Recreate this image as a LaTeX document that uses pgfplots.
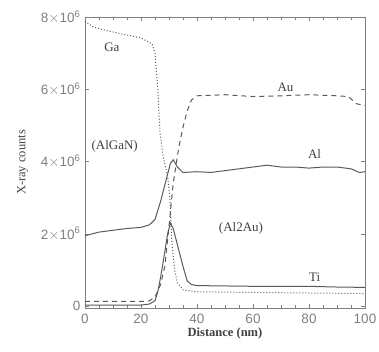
\documentclass[border=0pt]{standalone}
\usepackage{pgfplots}
\pgfplotsset{compat=1.18}
\usepackage{fontspec}
\setmainfont{Liberation Serif}
\setsansfont{Liberation Sans}
\definecolor{axc}{gray}{0.5}
\definecolor{lnc}{gray}{0.35}
\definecolor{txc}{gray}{0.25}
\begin{document}
\begin{tikzpicture}
\path[use as bounding box] (-85pt,-43pt) rectangle (294pt,308pt);
\begin{axis}[
  scale only axis, width=280pt, height=291pt,
  xmin=0, xmax=100, ymin=-0.05, ymax=8,
  axis line style={axc, line width=0.8pt},
  tick style={axc},
  xtick={0,20,40,60,80,100},
  minor x tick num=3,
  ytick={0,2,4,6,8},
  yticklabels={0,2$\times$10\textsuperscript{6},4$\times$10\textsuperscript{6},6$\times$10\textsuperscript{6},8$\times$10\textsuperscript{6}},
  /pgf/number format/assume math mode=true,
  tick label style={font=\sffamily\fontsize{13.5}{16}\selectfont, text=axc},
  xticklabel style={yshift=-3pt},
  yticklabel style={xshift=-1pt},
  xlabel={\textbf{Distance (nm)}},
  ylabel={X-ray counts},
  label style={font=\fontsize{12.5}{14}\selectfont, text=txc},
  xlabel style={yshift=3pt},
  ylabel style={yshift=6pt},
  tick align=inside,
]
\addplot[lnc, line width=1pt, dotted] coordinates {
(0,7.88)(3,7.72)(8,7.62)(15,7.5)(20,7.42)(24,7.25)(25,7.0)(26,6.0)(26.8,4.8)(28,4.1)(29.5,3.6)(30.3,3.0)(31,1.8)(32,1.0)(33,0.65)(35,0.45)(40,0.4)(60,0.38)(100,0.35)};
\addplot[lnc, line width=1pt, dashed, dash pattern=on 5pt off 4pt] coordinates {
(0,0.13)(20,0.13)(23,0.15)(25,0.25)(27,0.6)(28.5,1.1)(30,2.2)(31.5,3.4)(33.5,4.4)(35,4.95)(36.5,5.4)(38,5.7)(40,5.82)(50,5.85)(60,5.8)(70,5.82)(80,5.85)(90,5.82)(94,5.8)(97,5.6)(100,5.55)};
\addplot[lnc, line width=1pt] coordinates {
(0,1.95)(5,2.05)(10,2.1)(15,2.15)(20,2.18)(23,2.25)(25,2.4)(27,2.9)(29,3.5)(30.5,3.95)(31.5,4.05)(33,3.85)(35,3.7)(40,3.72)(45,3.7)(50,3.75)(55,3.8)(60,3.85)(65,3.9)(70,3.85)(75,3.85)(80,3.82)(85,3.85)(90,3.85)(95,3.8)(98,3.7)(100,3.72)};
\addplot[lnc, line width=1pt] coordinates {
(0,0.03)(20,0.03)(23,0.06)(25,0.15)(26,0.4)(27,0.8)(28.5,1.5)(29.5,2.0)(30.5,2.3)(31.5,2.15)(33,1.7)(35,1.1)(36.5,0.7)(38,0.6)(40,0.57)(50,0.56)(60,0.55)(70,0.55)(80,0.55)(90,0.53)(100,0.52)};
\begin{scope}[every node/.style={font=\fontsize{13}{15}\selectfont, text=txc}]
\node at (axis cs:9.6,7.16) {Ga};
\node at (axis cs:71.6,6.06) {Au};
\node at (axis cs:10.6,4.43) {(AlGaN)};
\node at (axis cs:82,4.22) {Al};
\node at (axis cs:55.7,2.16) {(Al2Au)};
\node at (axis cs:82,0.80) {Ti};
\end{scope}
\end{axis}
\end{tikzpicture}
\end{document}
